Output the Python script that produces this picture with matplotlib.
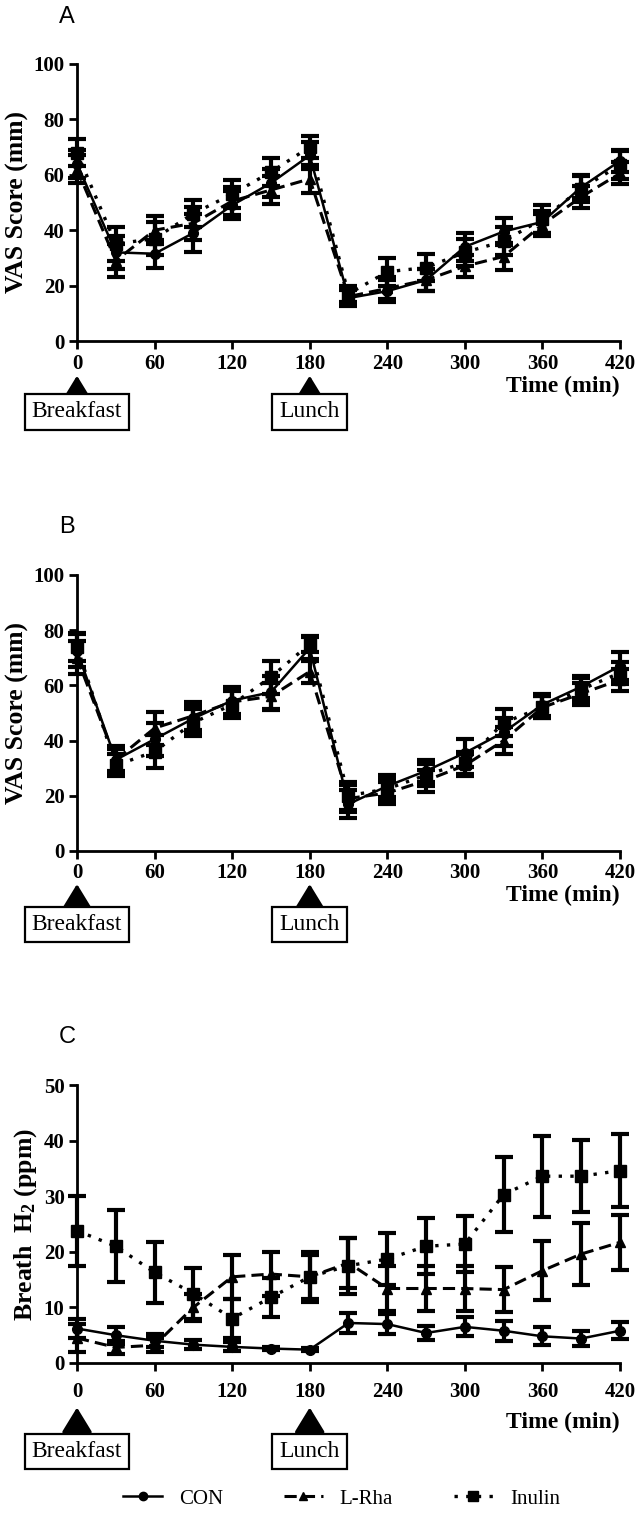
import matplotlib.pyplot as plt
from matplotlib.lines import Line2D

plt.rcParams['font.family'] = ['Liberation Serif', 'DejaVu Serif']
plt.rcParams['mathtext.fontset'] = 'custom'
plt.rcParams['mathtext.bf'] = 'Liberation Serif:bold'
plt.rcParams['mathtext.rm'] = 'Liberation Serif'

# time points (min)
time_min = [0, 30, 60, 90, 120, 150, 180, 210, 240, 270, 300, 330, 360, 390, 420]

# panel A - VAS score
a_con = [64, 32, 31.5, 39, 49, 57, 67, 15.5, 18, 22, 34, 39.5, 43, 55.5, 65]
a_con_sem = [5, 6, 5, 7, 5, 5, 5, 3, 4, 4, 5, 5, 4, 4, 4]
a_rha = [62, 29, 40, 42.5, 50.5, 54.5, 58.5, 16, 19, 22, 27, 30.5, 42, 52, 60.5]
a_rha_sem = [5, 6, 5, 6, 5, 5, 5, 3, 4, 4, 4, 5, 4, 4, 4]
a_inu = [68, 35, 37, 46, 53, 61, 70, 17, 25, 26.5, 32, 36, 44, 55, 63.5]
a_inu_sem = [5, 6, 6, 5, 5, 5, 4, 3, 5, 5, 5, 5, 5, 5, 5]

# panel B - VAS score
b_con = [72.5, 33, 40.5, 48, 54.5, 57.5, 73.5, 17, 23.5, 29, 35.5, 43, 53, 59.5, 67]
b_con_sem = [6, 5, 6, 5, 5, 6, 4, 5, 4, 4, 5, 5, 4, 4, 5]
b_rha = [70, 33, 44.5, 49, 54, 56, 65, 19, 21, 25.5, 31, 40, 52, 57, 62]
b_rha_sem = [6, 4, 6, 5, 5, 5, 4, 5, 4, 4, 4, 5, 4, 4, 4]
b_inu = [74, 31, 36, 46.5, 53, 63, 75, 20, 22.5, 27.5, 32, 46.5, 52, 58.5, 64.5]
b_inu_sem = [5, 4, 6, 5, 5, 6, 3, 5, 4, 4, 4, 5, 4, 4, 4]

# panel C - breath H2
c_con = [6.2, 5.0, 4.0, 3.3, 2.9, 2.6, 2.4, 7.2, 7.0, 5.4, 6.5, 5.8, 4.8, 4.4, 5.8]
c_con_sem = [1.7, 1.5, 1.2, 0.8, 0.8, 0.3, 0.3, 1.8, 1.8, 1.3, 1.7, 1.8, 1.6, 1.3, 1.5]
c_rha = [4.5, 2.8, 3.2, 10, 15.5, 16, 15.5, 18, 13.4, 13.4, 13.4, 13.2, 16.6, 19.6, 21.7]
c_rha_sem = [2.5, 1.2, 1.3, 2.5, 4, 4, 4, 4.5, 4, 4, 4, 4, 5.3, 5.5, 5]
c_inu = [23.8, 21, 16.3, 12.5, 8, 11.8, 15.5, 17.5, 18.7, 21, 21.4, 30.3, 33.6, 33.6, 34.6]
c_inu_sem = [6.3, 6.5, 5.5, 4.5, 3.5, 3.5, 4.5, 5, 4.7, 5, 5, 6.8, 7.3, 6.5, 6.6]

groups = ['CON', 'L-Rha', 'Inulin']
styles = {'CON': dict(ls='-', marker='o', ms=7, lw=1.8),
          'L-Rha': dict(ls=(0, (4, 2)), marker='^', ms=7, lw=2.2),
          'Inulin': dict(ls=(0, (1, 2.5)), marker='s', ms=8, lw=2.4)}

fig = plt.figure(figsize=(6.38, 15.19), dpi=100)

# (letter, rect, series, sems, ymax, ystep, ylabel, tick pad, arrow tip, box centre, time label y)
panels = [
    ('A', [0.1207, 0.7755, 0.851, 0.1824], (a_con, a_rha, a_inu),
     (a_con_sem, a_rha_sem, a_inu_sem), 100, 20, 'VAS Score (mm)',
     3, -0.125, -0.256, -0.163),
    ('B', [0.1207, 0.4398, 0.851, 0.1817], (b_con, b_rha, b_inu),
     (b_con_sem, b_rha_sem, b_inu_sem), 100, 20, 'VAS Score (mm)',
     3, -0.12, -0.268, -0.16),
    ('C', [0.1207, 0.1027, 0.851, 0.1830], (c_con, c_rha, c_inu),
     (c_con_sem, c_rha_sem, c_inu_sem), 50, 10, r'Breath  $\mathbf{H_2}$ (ppm)',
     8, -0.16, -0.317, -0.215),
]

letter_y = {'A': 1 - 17 / 1519, 'B': 1 - 527 / 1519, 'C': 1 - 1037 / 1519}

for letter, rect, series, sems, ymax, ystep, ylabel, xpad, tip, boxc, timey in panels:
    ax = fig.add_axes(rect)
    for g, y, e in zip(groups, series, sems):
        st = styles[g]
        ax.errorbar(time_min, y, yerr=e, color='black', ls=st['ls'], lw=st['lw'],
                    marker=st['marker'], ms=st['ms'], elinewidth=3, capsize=6.5,
                    capthick=3, clip_on=False, zorder=3)
    ax.set_xlim(0, 420)
    ax.set_ylim(0, ymax)
    ax.set_xticks(range(0, 421, 60))
    ax.set_yticks(range(0, ymax + 1, ystep))
    for side in ['top', 'right']:
        ax.spines[side].set_visible(False)
    for side in ['left', 'bottom']:
        ax.spines[side].set_linewidth(2)
    ax.tick_params(width=2, length=6, labelsize=15, pad=3)
    ax.tick_params(axis='x', pad=xpad)
    for lab in ax.get_xticklabels() + ax.get_yticklabels():
        lab.set_fontweight('bold')
    ax.set_ylabel(ylabel, fontsize=18.5, fontweight='bold', labelpad=3)
    ax.text(1.0, timey, 'Time (min)', transform=ax.transAxes, ha='right',
            va='center', fontsize=17, fontweight='bold')
    fig.text(0.105, letter_y[letter], letter, family='Liberation Sans',
             fontsize=17, ha='center', va='center')

    for meal, tx in [('Breakfast', 0), ('Lunch', 180)]:
        ax.annotate(meal, xy=(tx, tip), xycoords=('data', 'axes fraction'),
                    xytext=(tx, boxc), textcoords=('data', 'axes fraction'),
                    ha='center', va='center', fontsize=17,
                    bbox=dict(boxstyle='square,pad=0.3', fc='white', ec='black', lw=1.6),
                    arrowprops=dict(arrowstyle='-|>,head_length=0.9,head_width=0.55',
                                    color='black', lw=2.5, shrinkA=0, shrinkB=0))

handles = [Line2D([], [], color='black', ls=styles[g]['ls'], lw=styles[g]['lw'],
                  marker=styles[g]['marker'], ms=styles[g]['ms'] - 1) for g in groups]
fig.legend(handles, groups, loc='center', bbox_to_anchor=(0.535, 1 - 1499 / 1519),
           ncol=3, frameon=False, fontsize=15, handlelength=1.9, columnspacing=2.9)

fig.savefig('out.png', dpi=100)
